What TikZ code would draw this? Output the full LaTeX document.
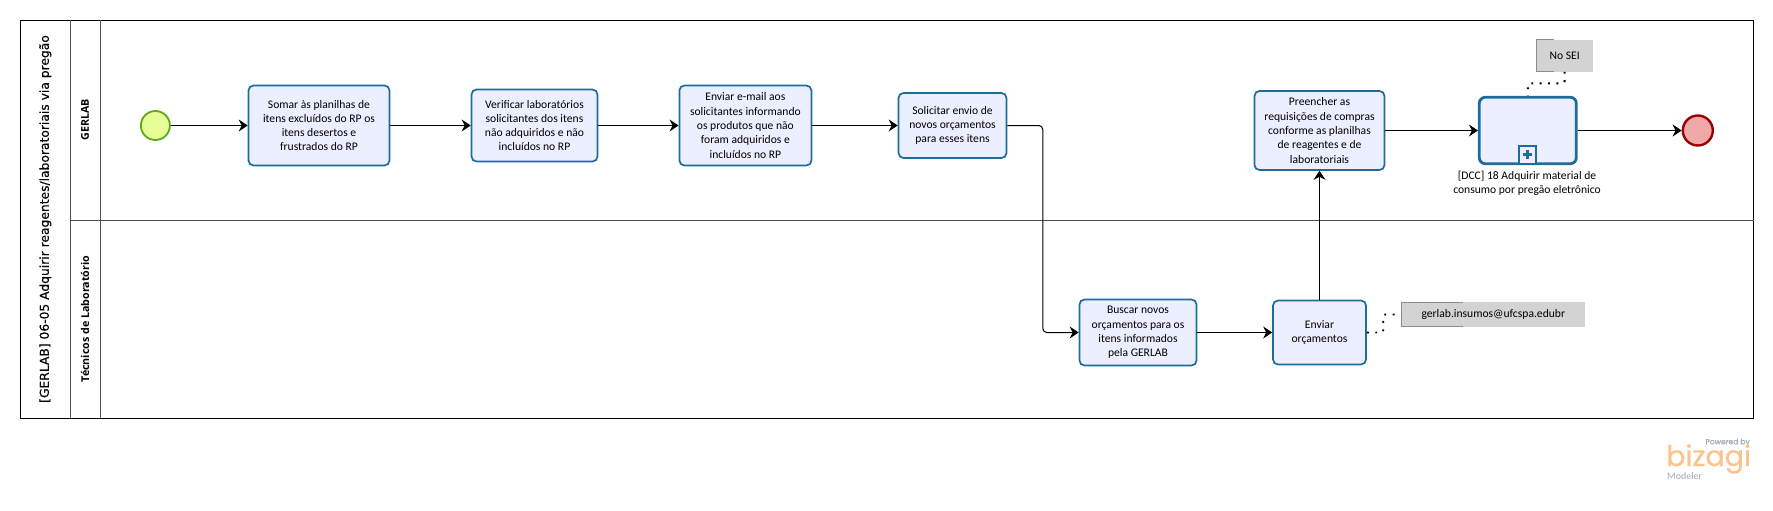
\documentclass[tikz,border=0pt]{standalone}
\usepackage{fontspec}
\setmainfont{Carlito}
\newfontfamily\titlefont[FakeBold=0.25]{DejaVu Sans}
\newfontfamily\lanefont{Open Sans}
\newfontfamily\logofont[FakeBold=0.6]{Poppins}
\usetikzlibrary{arrows.meta}
\definecolor{taskblue}{HTML}{1E6C9C}
\definecolor{taskfill}{HTML}{ECEFFF}
\definecolor{annfill}{HTML}{D3D3D3}
\definecolor{annline}{HTML}{8C8C8C}
\definecolor{lanegray}{HTML}{505050}
\definecolor{logoorange}{HTML}{F9C48C}
\definecolor{logogray}{HTML}{A3ABB3}
\definecolor{startline}{HTML}{62A716}
\definecolor{startfill}{HTML}{E6FF97}
\definecolor{endline}{HTML}{990000}
\definecolor{endfill}{HTML}{EEA8A8}
\tikzset{
  lanelines/.style={draw=lanegray,line width=0.9pt},
  tasktext/.style={font=\fontsize{11.6}{14.3}\selectfont,align=center,text=black,inner sep=0pt},
  taskbox/.style={tasktext,draw=taskblue,fill=taskfill,line width=1.7pt,rounded corners=5pt},
  subbox/.style={draw=taskblue,fill=taskfill,line width=2.8pt,rounded corners=6pt,inner sep=0pt},
  flow/.style={draw=black,line width=1pt,-{Stealth[length=9pt,width=12pt,inset=3pt]}},
  assoc/.style={draw=black,line width=1.9pt,dash pattern=on 1.9pt off 6.5pt,rounded corners=2pt},
  annbox/.style={tasktext,fill=annfill,inner sep=0pt},
  annbracket/.style={draw=annline,line width=0.9pt},
  lanetitle/.style={rotate=90,font=\lanefont\bfseries\fontsize{10.7}{12}\selectfont},
}
\begin{document}
\begin{tikzpicture}[x=1pt,y=-1pt]
\useasboundingbox (0,0) rectangle (1773,511);
% pool and lanes
\draw[lanelines,draw=black] (20.3,20.3) rectangle (1753.5,418.3);
\draw[lanelines] (70.8,20.3) -- (70.8,418.3);
\draw[lanelines] (100.3,20.3) -- (100.3,418.3);
\draw[lanelines] (70.8,220.3) -- (1753.5,220.3);
\node[rotate=90,font=\titlefont\fontsize{12.3}{14}\selectfont] (pooltitle) at (45.3,219) {[GERLAB] 06-05 Adquirir reagentes/laboratoriais via pregão};
\node[lanetitle] (lane1) at (85,120) {GERLAB};
\node[lanetitle] (lane2) at (85,319) {Técnicos de Laboratório};
% events
\node[circle,draw=startline,fill=startfill,line width=1.8pt,minimum size=29pt,inner sep=0pt] (start) at (155.4,125.5) {};
\node[circle,draw=endline,fill=endfill,line width=2.4pt,minimum size=30pt,inner sep=0pt] (finish) at (1697.8,130.5) {};
% tasks
\node[taskbox,minimum width=141pt,minimum height=80pt] (t1) at (319,125.5) {Somar às planilhas de\\itens excluídos do RP os\\itens desertos e\\frustrados do RP};
\node[taskbox,minimum width=126pt,minimum height=72pt] (t2) at (534.5,125.5) {Verificar laboratórios\\solicitantes dos itens\\não adquiridos e não\\incluídos no RP};
\node[taskbox,minimum width=132pt,minimum height=80pt] (t3) at (745.4,125.5) {Enviar e-mail aos\\solicitantes informando\\os produtos que não\\foram adquiridos e\\incluídos no RP};
\node[taskbox,minimum width=108pt,minimum height=65pt] (t4) at (952.5,125.5) {Solicitar envio de\\novos orçamentos\\para esses itens};
\node[taskbox,minimum width=117pt,minimum height=66pt] (t5) at (1138,332.5) {Buscar novos\\orçamentos para os\\itens informados\\pela GERLAB};
\node[taskbox,minimum width=93pt,minimum height=64pt] (t6) at (1319.5,332.5) {Enviar\\orçamentos};
\node[taskbox,minimum width=130pt,minimum height=79pt] (t7) at (1319.5,130.5) {Preencher as\\requisições de compras\\conforme as planilhas\\de reagentes e de\\laboratoriais};
% subprocess
\node[subbox,minimum width=97pt,minimum height=66.5pt] (sub) at (1527.8,130.5) {};
\node[draw=taskblue,fill=taskfill,line width=1.7pt,minimum size=17.5pt,inner sep=0pt] (marker) at (1527.5,154.7) {};
\draw[taskblue,line width=2.6pt] ([xshift=-4.5pt]marker.center) -- ([xshift=4.5pt]marker.center);
\draw[taskblue,line width=2.6pt] ([yshift=-4.5pt]marker.center) -- ([yshift=4.5pt]marker.center);
\node[tasktext,anchor=north] (sublabel) at (1527,170.5) {[DCC] 18 Adquirir material de\\consumo por pregão eletrônico};
% annotations
\node[annbox,minimum width=56.6pt,minimum height=31.7pt] (nosei) at (1564.6,55.8) {No SEI};
\draw[annbracket] ([xshift=18pt]nosei.north west) -- (nosei.north west) -- (nosei.south west) -- ([xshift=18pt]nosei.south west);
\node[annbox,minimum width=183.8pt,minimum height=24.4pt] (mail) at (1493.3,314.5) {gerlab.insumos@ufcspa.edubr};
\draw[annbracket] ([xshift=62pt]mail.north west) -- (mail.north west) -- (mail.south west) -- ([xshift=62pt]mail.south west);
% connectors
\draw[flow] (start) -- (t1);
\draw[flow] (t1) -- (t2);
\draw[flow] (t2) -- (t3);
\draw[flow] (t3) -- (t4);
\coordinate (bend) at (1042.8,125.5);
\draw[flow,rounded corners=4pt] (t4.east) -- (bend) |- (t5.west);
\draw[flow] (t5) -- (t6);
\draw[flow] (t6) -- (t7);
\draw[flow] (t7) -- (sub);
\draw[flow] (sub) -- (finish);
\draw[assoc] (nosei.south) -- ++(0,11.5) -| (sub.north);
\draw[assoc] (t6.east) -- ++(16.4,0) |- (mail.west);
% logo
\node[anchor=east,inner sep=0pt,text=logogray,font=\logofont\fontsize{7.6}{9}\selectfont] (powered) at (1750,442.5) {Powered by};
\node[anchor=west,inner sep=0pt,text=logoorange,font=\logofont\fontsize{28.5}{30}\selectfont] (logo) at (1666,459) {bizagi};
\node[anchor=west,inner sep=0pt,text=logogray,font=\fontsize{10}{12}\selectfont] (modeler) at (1667,476) {Modeler};
\end{tikzpicture}
\end{document}
